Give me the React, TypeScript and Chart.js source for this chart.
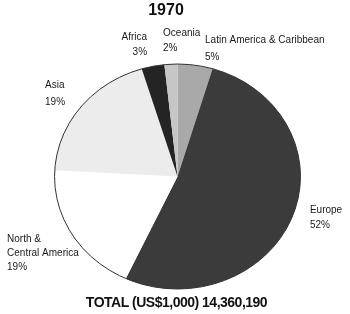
import React, { useEffect, useRef } from "react";
import { Chart, registerables } from "chart.js";

Chart.register(...registerables);

// ---- data ----
const regions = ["Latin America & Caribbean", "Europe", "North & Central America", "Asia", "Africa", "Oceania"];
const shares = [4.6, 52.3, 19.0, 19.4, 3.0, 1.7];
const labelLines = [
  ["Latin America & Caribbean"],
  ["Europe"],
  ["North &", "Central America"],
  ["Asia"],
  ["Africa"],
  ["Oceania"],
];
const titleText = "1970";
const totalText = "TOTAL (US$1,000) 14,360,190";

// ---- styles / layout ----
const sliceColors = ["#a9a9a9", "#3b3b3b", "#ffffff", "#ececec", "#242424", "#c6c6c6"];
const SX = 1.093; // horizontal stretch of the pie (ellipse)
const labelLayout = [
  { dx: 9.8, dy: -25.2, align: "left", gap: 17 },
  { dx: 17.4, dy: -6.3, align: "left", gap: 15 },
  { dx: -65, dy: 4.7, align: "left", gap: 14 },
  { dx: -35.8, dy: -22, align: "left", gap: 17 },
  { dx: -5.9, dy: -29.3, align: "right", gap: 15 },
  { dx: -7.9, dy: -31.2, align: "left", gap: 15 },
];
const FONT = '"Liberation Sans", Arial, Helvetica, sans-serif';

const piePlugin = {
  id: "ellipsePie",
  beforeDatasetsDraw(chart: any) {
    const meta = chart.getDatasetMeta(0);
    const a = meta.data[0];
    if (!a) return;
    const ctx = chart.ctx;
    ctx.save();
    ctx.translate(a.x, a.y);
    ctx.scale(SX, 1);
    ctx.translate(-a.x, -a.y);
  },
  afterDatasetsDraw(chart: any) {
    const ctx = chart.ctx;
    ctx.restore();
    const meta = chart.getDatasetMeta(0);
    const first = meta.data[0];
    if (!first) return;
    const cx = first.x;
    const cy = first.y;
    const r = first.outerRadius;
    // outline
    ctx.save();
    ctx.beginPath();
    ctx.ellipse(cx, cy, r * SX, r, 0, 0, Math.PI * 2);
    ctx.strokeStyle = "#333";
    ctx.lineWidth = 1;
    ctx.stroke();
    ctx.restore();

    // labels
    const total = shares.reduce((s, v) => s + v, 0);
    ctx.save();
    ctx.fillStyle = "#1a1a1a";
    ctx.font = `10px ${FONT}`;
    ctx.textBaseline = "middle";
    meta.data.forEach((arc: any, i: number) => {
      const mid = (arc.startAngle + arc.endAngle) / 2;
      const ex = cx + Math.cos(mid) * r * SX;
      const ey = cy + Math.sin(mid) * r;
      const L = labelLayout[i];
      const lines = [...labelLines[i], Math.round((shares[i] / total) * 100) + "%"];
      ctx.textAlign = L.align;
      lines.forEach((t, k) => {
        ctx.fillText(t, ex + L.dx, ey + L.dy + k * L.gap);
      });
    });
    ctx.restore();

    // title and total
    ctx.save();
    ctx.fillStyle = "#111";
    ctx.textAlign = "center";
    ctx.textBaseline = "middle";
    ctx.font = `bold 16px ${FONT}`;
    ctx.fillText(titleText, 166, 11);
    ctx.font = `bold 14px ${FONT}`;
    (ctx as any).letterSpacing = "-0.5px";
    ctx.fillText(totalText, 176.5, 303);
    ctx.restore();
  },
};

export default function App() {
  const ref = useRef<HTMLCanvasElement | null>(null);
  useEffect(() => {
    if (!ref.current) return;
    const chart = new Chart(ref.current, {
      type: "pie",
      data: {
        labels: regions,
        datasets: [
          {
            data: shares,
            backgroundColor: sliceColors,
            borderWidth: 0,
          },
        ],
      },
      options: {
        responsive: false,
        maintainAspectRatio: false,
        animation: false,
        layout: { padding: { top: 64, bottom: 25, left: 65, right: 60 } },
        plugins: {
          legend: { display: false },
          tooltip: { enabled: false },
          title: { display: false },
        },
      },
      plugins: [piePlugin],
    });
    return () => chart.destroy();
  }, []);
  return (
    <div style={{ position: "absolute", left: 0, top: 0, width: 350, height: 314, background: "#fff" }}>
      <canvas ref={ref} width={350} height={314} style={{ display: "block", width: 350, height: 314 }} />
    </div>
  );
}
